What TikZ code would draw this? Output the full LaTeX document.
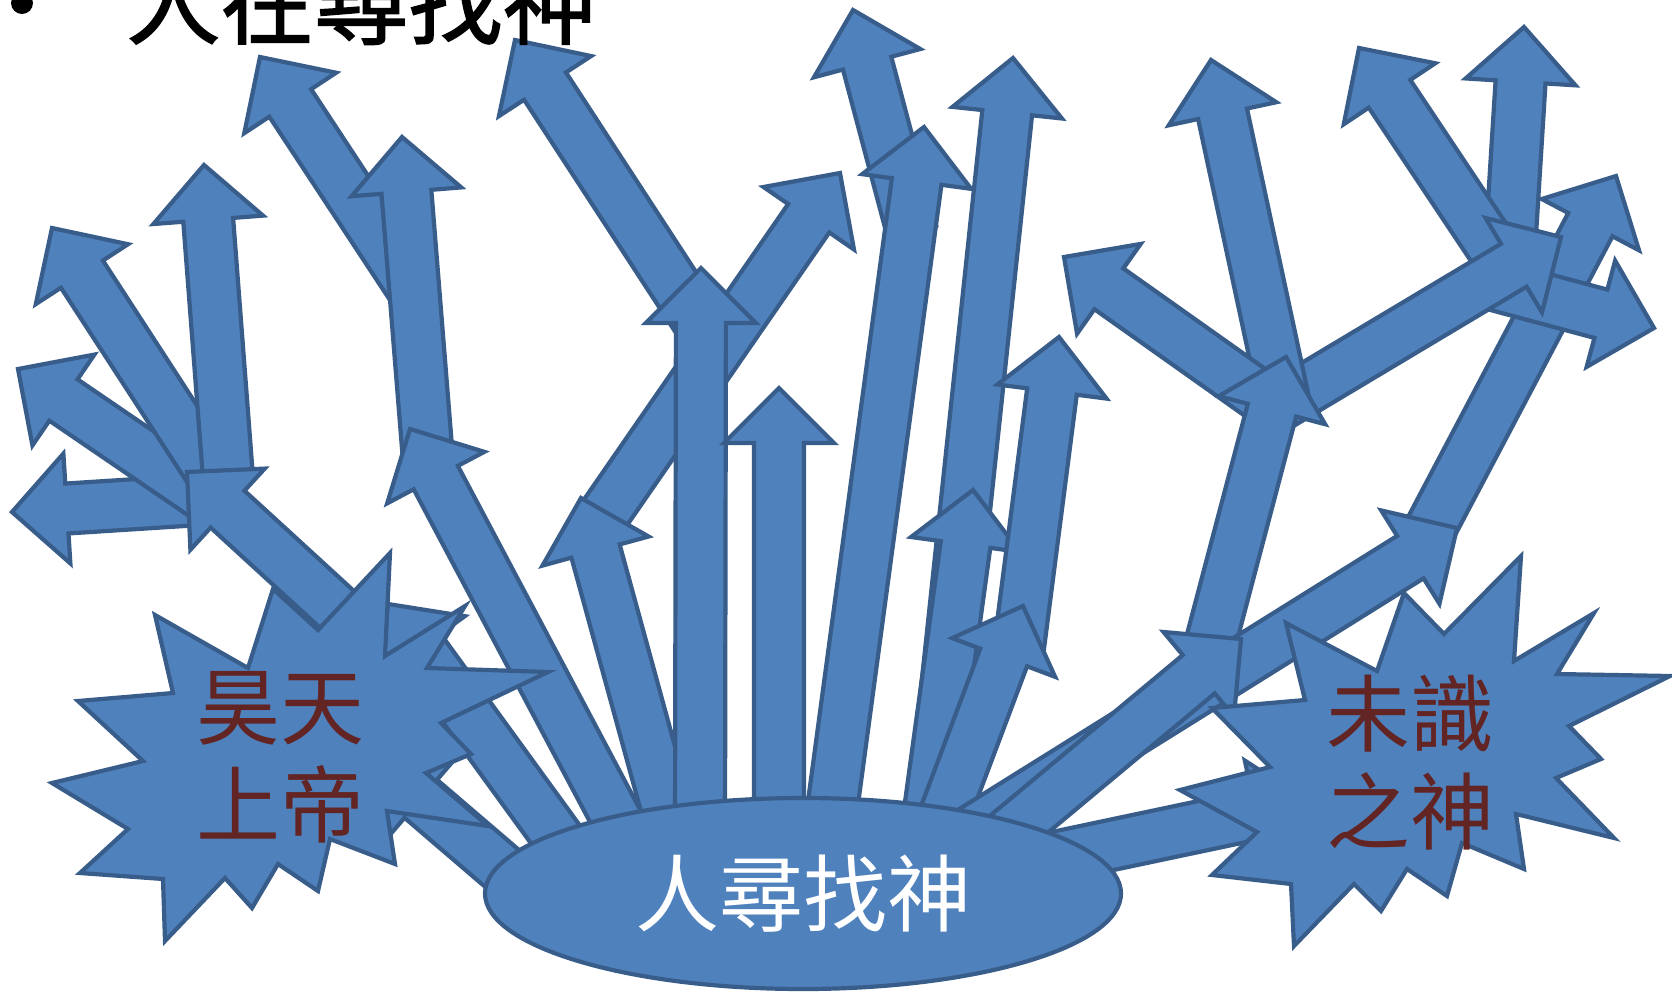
\documentclass[tikz,border=0pt]{standalone}
\usepackage{fontspec}
\newfontfamily\cjk{Noto Sans CJK TC}
\newfontfamily\cjkt[BoldFont={Noto Sans CJK TC},BoldFeatures={FakeBold=1.6}]{Noto Sans CJK TC}
\usetikzlibrary{calc,shapes.geometric}
\definecolor{arrfill}{HTML}{4F81BD}
\definecolor{arrline}{HTML}{385D8A}
\definecolor{godred}{HTML}{632523}
\tikzset{
  arr/.style={fill=arrfill,draw=arrline,line width=2.1pt,line join=miter},
  godtext/.style={font=\cjk\fontsize{42}{49}\selectfont,text=godred,align=center,inner sep=0pt}
}
% block arrow from tail #1 to tip #2
\newcommand\barrow[2]{%
  \coordinate (hb) at ($(#2)!27.5pt!(#1)$);
  \draw[arr] ($(#1)!12.5pt!90:(#2)$) -- ($(hb)!12.5pt!90:(#2)$) -- ($(hb)!27.5pt!90:(#2)$) -- (#2)
     -- ($(hb)!27.5pt!-90:(#2)$) -- ($(hb)!12.5pt!-90:(#2)$) -- ($(#1)!12.5pt!-90:(#2)$) -- cycle;}
\begin{document}
\begin{tikzpicture}[x=0.5pt,y=-0.5pt]
\useasboundingbox (0,0) rectangle (1672,992);
\clip (0,0) rectangle (1672,992);
% ---- coordinates (tail t, tip h)
\coordinate (A1t) at (200,500);  \coordinate (A1h) at (12,512);
\coordinate (A2t) at (210,500);  \coordinate (A2h) at (18,369);
\coordinate (A3t) at (222,490);  \coordinate (A3h) at (52,228);
\coordinate (A4t) at (228,478);  \coordinate (A4h) at (204,165);
\coordinate (Jt) at (342,614);   \coordinate (Jh) at (187,472);
\coordinate (Pt) at (410,285);   \coordinate (Ph) at (260,57);
\coordinate (Qt) at (428,460);   \coordinate (Qh) at (402,137);
\coordinate (M4t) at (630,844);  \coordinate (M4h) at (410,429);
\coordinate (P1t) at (582,871);  \coordinate (P1h) at (388,604);
\coordinate (L2t) at (560,918);  \coordinate (L2h) at (379,763);
\coordinate (M1t) at (700,324);  \coordinate (M1h) at (515,40);
\coordinate (M2t) at (603,516);  \coordinate (M2h) at (840,173);
\coordinate (M3t) at (672,830);  \coordinate (M3h) at (581,498);
\coordinate (Vt) at (700,840);   \coordinate (Vh) at (701,268);
\coordinate (V2t) at (779,840);  \coordinate (V2h) at (779,388);
\coordinate (R1t) at (912,232);  \coordinate (R1h) at (853,10);
\coordinate (R2t) at (828,840);  \coordinate (R2h) at (924,127);
\coordinate (R3t) at (930,840);  \coordinate (R3h) at (1013,58);
\coordinate (R4t) at (925,840);  \coordinate (R4h) at (973,490);
\coordinate (R6t) at (1018,655); \coordinate (R6h) at (1059,337);
\coordinate (R5t) at (935,840);  \coordinate (R5h) at (1023,606);
\coordinate (S9t) at (1510,250); \coordinate (S9h) at (1524,27);
\coordinate (S10t) at (1499,258);\coordinate (S10h) at (1359,48);
\coordinate (S7t) at (1420,548); \coordinate (S7h) at (1616,176);
\coordinate (S8t) at (1490,284); \coordinate (S8h) at (1654,328);
\coordinate (S3t) at (1280,405); \coordinate (S3h) at (1561,237);
\coordinate (S1t) at (1284,400); \coordinate (S1h) at (1211,60);
\coordinate (S2t) at (1270,403); \coordinate (S2h) at (1064,257);
\coordinate (S0t) at (1210,645); \coordinate (S0h) at (1286,357);
\coordinate (S5t) at (960,838);  \coordinate (S5h) at (1457,528);
\coordinate (S4t) at (1000,840); \coordinate (S4h) at (1241,639);
\coordinate (E1t) at (1040,860); \coordinate (E1h) at (1310,803);
% ---- arrows, back to front
\barrow{A1t}{A1h}\barrow{A2t}{A2h}\barrow{A3t}{A3h}\barrow{A4t}{A4h}\barrow{Jt}{Jh}
\barrow{Pt}{Ph}\barrow{Qt}{Qh}\barrow{M4t}{M4h}
\barrow{P1t}{P1h}\barrow{L2t}{L2h}
\barrow{M1t}{M1h}\barrow{M2t}{M2h}\barrow{M3t}{M3h}\barrow{Vt}{Vh}\barrow{V2t}{V2h}
\barrow{R1t}{R1h}\barrow{R2t}{R2h}\barrow{R3t}{R3h}\barrow{R4t}{R4h}\barrow{R6t}{R6h}\barrow{R5t}{R5h}
\barrow{S9t}{S9h}\barrow{S10t}{S10h}\barrow{S7t}{S7h}\barrow{S8t}{S8h}\barrow{S3t}{S3h}
\barrow{S1t}{S1h}\barrow{S2t}{S2h}\barrow{S0t}{S0h}\barrow{S5t}{S5h}\barrow{S4t}{S4h}\barrow{E1t}{E1h}
% ---- explosion shapes
\draw[arr] (155,615) -- (248,668) -- (273,589) -- (318,630) -- (390,553) -- (385,656) -- (465,606)
  -- (427,668) -- (548,672) -- (441,723) -- (471,754) -- (426,773) -- (488,826) -- (387,811)
  -- (395,864) -- (330,839) -- (318,891) -- (278,864) -- (252,908) -- (225,878) -- (165,941)
  -- (163,879) -- (80,873) -- (128,829) -- (52,783) -- (143,761) -- (78,701) -- (173,693) -- cycle;
\draw[arr] (1286,623) -- (1377,671) -- (1404,593) -- (1444,634) -- (1521,556) -- (1514,661)
  -- (1594,613) -- (1557,674) -- (1670,676) -- (1569,726) -- (1601,759) -- (1556,778) -- (1614,838)
  -- (1516,814) -- (1524,869) -- (1462,843) -- (1447,896) -- (1407,869) -- (1381,911) -- (1354,884)
  -- (1294,946) -- (1291,884) -- (1212,875) -- (1257,832) -- (1180,790) -- (1270,767) -- (1212,708)
  -- (1305,700) -- cycle;
\node[godtext] (lgod) at (280,757.5) {昊天\\上帝};
\node[godtext] (rgod) at (1410.5,762.5) {未識\\之神};
% ---- ellipse
\node[ellipse,arr,minimum width=318pt,minimum height=95.5pt,inner sep=0pt,
      font=\cjk\fontsize{42}{44}\selectfont,text=white] (seek) at (803,893.5) {人尋找神};
% ---- title
\node[circle,fill=black,minimum size=11pt,inner sep=0pt] (bullet) at (22,3) {};
\node[anchor=base west,inner sep=0pt,font=\cjkt\bfseries\fontsize{47}{50}\selectfont] (title) at (126,37) {人在尋找神};
\end{tikzpicture}
\end{document}
